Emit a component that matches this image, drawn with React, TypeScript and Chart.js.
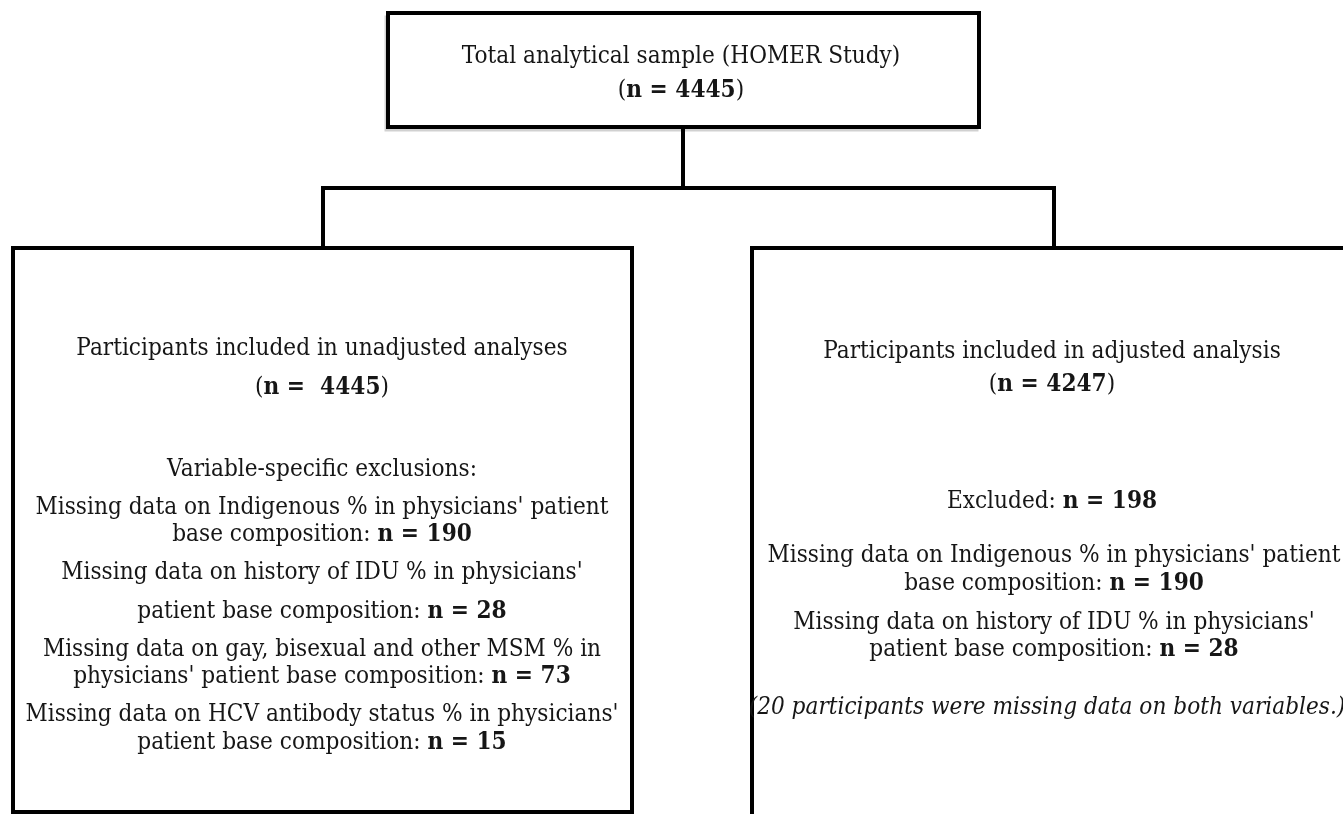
import React, { useEffect, useRef } from "react";
import { Chart, registerables } from "chart.js";

Chart.register(...registerables);

// ---------- data ----------
const studyName = "HOMER Study";
const totalN = 4445;
const unadjustedN = 4445;
const adjustedN = 4247;
const adjustedExcludedN = 198;
const bothMissingN = 20;
const unadjustedExclusionLines = [
  ["Missing data on Indigenous % in physicians' patient", "base composition: ", 190],
  ["Missing data on history of IDU % in physicians'", "patient base composition: ", 28],
  ["Missing data on gay, bisexual and other MSM % in", "physicians' patient base composition: ", 73],
  ["Missing data on HCV antibody status % in physicians'", "patient base composition: ", 15],
] as [string, string, number][];
const adjustedExclusionLines = [
  ["Missing data on Indigenous % in physicians' patient", "base composition: ", 190],
  ["Missing data on history of IDU % in physicians'", "patient base composition: ", 28],
] as [string, string, number][];

// ---------- layout ----------
const W = 1343;
const H = 814;
const boxTop = { x1: 388, y1: 13, x2: 979, y2: 127 };
const boxLeft = { x1: 13, y1: 248, x2: 632, y2: 812 };
const boxRight = { x1: 752, y1: 248, x2: 1360, y2: 840 };
const branchY = 188;
const trunkX = 683;
const leftX = 323;
const rightX = 1054;

type Seg = { t: string; b?: boolean; i?: boolean };
type TextItem = { x: number; y: number; segs: Seg[] };

const FONT_FAMILY = "'DejaVu Serif', serif";
const FONT_SIZE = 21.7;
const TEXT_STRETCH_Y = 1.1;

function buildTexts(): TextItem[] {
  const items: TextItem[] = [];
  items.push({ x: 681, y: 57, segs: [{ t: `Total analytical sample (${studyName})` }] });
  items.push({ x: 681, y: 91, segs: [{ t: "(" }, { t: `n = ${totalN}`, b: true }, { t: ")" }] });

  items.push({ x: 322, y: 349, segs: [{ t: "Participants included in unadjusted analyses" }] });
  items.push({ x: 322, y: 388, segs: [{ t: "(" }, { t: `n =  ${unadjustedN}`, b: true }, { t: ")" }] });
  items.push({ x: 322, y: 470, segs: [{ t: "Variable-specific exclusions:" }] });
  const leftYs = [[508, 535], [573, 612], [650, 677], [715, 743]];
  unadjustedExclusionLines.forEach((l, k) => {
    items.push({ x: 322, y: leftYs[k][0], segs: [{ t: l[0] }] });
    items.push({ x: 322, y: leftYs[k][1], segs: [{ t: l[1] }, { t: `n = ${l[2]}`, b: true }] });
  });

  items.push({ x: 1052, y: 352, segs: [{ t: "Participants included in adjusted analysis" }] });
  items.push({ x: 1052, y: 385, segs: [{ t: "(" }, { t: `n = ${adjustedN}`, b: true }, { t: ")" }] });
  items.push({ x: 1052, y: 502, segs: [{ t: "Excluded: " }, { t: `n = ${adjustedExcludedN}`, b: true }] });
  const rightYs = [[556, 584], [623, 650]];
  adjustedExclusionLines.forEach((l, k) => {
    items.push({ x: 1054, y: rightYs[k][0], segs: [{ t: l[0] }] });
    items.push({ x: 1054, y: rightYs[k][1], segs: [{ t: l[1] }, { t: `n = ${l[2]}`, b: true }] });
  });
  items.push({
    x: 1047,
    y: 708,
    segs: [{ t: `(${bothMissingN} participants were missing data on both variables.)`, i: true }],
  });
  return items;
}

function rect(b: { x1: number; y1: number; x2: number; y2: number }) {
  return [
    { x: b.x1, y: b.y1 },
    { x: b.x2, y: b.y1 },
    { x: b.x2, y: b.y2 },
    { x: b.x1, y: b.y2 },
    { x: b.x1, y: b.y1 },
  ];
}

const textPlugin = {
  id: "flowText",
  afterDatasetsDraw(chart: any) {
    const ctx = chart.ctx as CanvasRenderingContext2D;
    const xs = chart.scales.x;
    const ys = chart.scales.y;
    const font = (s: Seg) =>
      `${s.i ? "italic " : ""}${s.b ? "bold " : ""}${FONT_SIZE}px ${FONT_FAMILY}`;
    ctx.save();
    ctx.fillStyle = "#161616";
    ctx.textBaseline = "middle";
    ctx.textAlign = "left";
    for (const item of buildTexts()) {
      let total = 0;
      for (const s of item.segs) {
        ctx.font = font(s);
        total += ctx.measureText(s.t).width;
      }
      let x = xs.getPixelForValue(item.x) - total / 2;
      const y = ys.getPixelForValue(item.y);
      ctx.save();
      ctx.translate(0, y);
      ctx.scale(1, TEXT_STRETCH_Y);
      for (const s of item.segs) {
        ctx.font = font(s);
        ctx.fillText(s.t, x, 0);
        x += ctx.measureText(s.t).width;
      }
      ctx.restore();
    }
    ctx.restore();
  },
};

export default function App() {
  const ref = useRef<HTMLCanvasElement | null>(null);
  useEffect(() => {
    document.body.style.margin = "0";
    const lineDs = (data: { x: number; y: number }[], color = "#000", width = 4) => ({
      data,
      showLine: true,
      borderColor: color,
      borderWidth: width,
      pointRadius: 0,
      fill: false,
      borderCapStyle: "square" as const,
      borderJoinStyle: "miter" as const,
      tension: 0,
    });
    const chart = new Chart(ref.current!, {
      type: "scatter",
      data: {
        datasets: [
          // soft shadow under the top box
          lineDs(
            [
              { x: boxTop.x1 - 2, y: boxTop.y1 + 4 },
              { x: boxTop.x1 - 2, y: boxTop.y2 + 3 },
              { x: boxTop.x2 - 2, y: boxTop.y2 + 3 },
            ],
            "rgba(0,0,0,0.18)",
            3
          ),
          lineDs(rect(boxTop)),
          lineDs([{ x: trunkX, y: boxTop.y2 }, { x: trunkX, y: branchY }]),
          lineDs([{ x: leftX, y: branchY }, { x: rightX, y: branchY }]),
          lineDs([{ x: leftX, y: branchY }, { x: leftX, y: boxLeft.y1 }]),
          lineDs([{ x: rightX, y: branchY }, { x: rightX, y: boxRight.y1 }]),
          lineDs(rect(boxLeft)),
          lineDs(rect(boxRight)),
        ],
      },
      options: {
        animation: false,
        responsive: false,
        maintainAspectRatio: false,
        layout: { padding: 0 },
        plugins: { legend: { display: false }, tooltip: { enabled: false } },
        scales: {
          x: { type: "linear", min: 0, max: W, display: false },
          y: { type: "linear", min: 0, max: H, reverse: true, display: false },
        },
        clip: false,
      } as any,
      plugins: [textPlugin],
    });
    return () => chart.destroy();
  }, []);
  return (
    <div style={{ width: W, height: H, background: "#fff" }}>
      <canvas ref={ref} width={W} height={H} style={{ display: "block" }} />
    </div>
  );
}
